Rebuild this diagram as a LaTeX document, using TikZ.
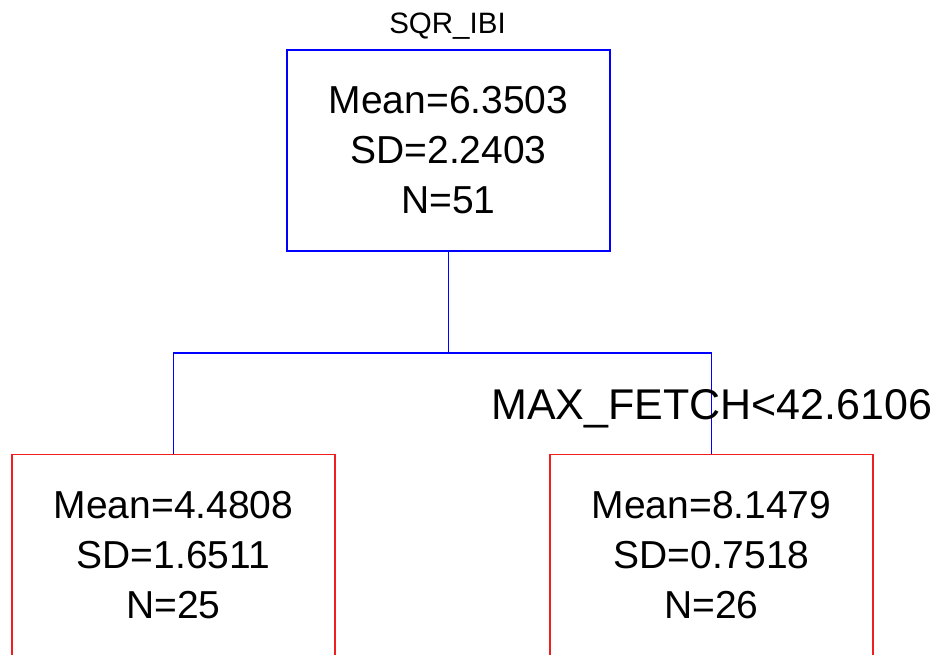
\documentclass[tikz,border=0pt]{standalone}
\usepackage{fontspec}
\setmainfont{Liberation Sans}
\definecolor{splitblue}{RGB}{0,0,255}
\definecolor{leafred}{RGB}{240,30,30}
\begin{document}
\begin{tikzpicture}[x=1pt,y=-1pt,
  treebox/.style={minimum width=323pt, minimum height=201pt, inner sep=0pt, line width=1.2pt,
    align=center, font=\fontsize{39}{50}\selectfont},
  rootbox/.style={treebox, draw=splitblue},
  leafbox/.style={treebox, draw=leafred},
  link/.style={draw=splitblue, line width=1.2pt}]
\useasboundingbox (0,0) rectangle (938,654);
\node[rootbox] (root) at (448.5,150.5) {Mean=6.3503\\SD=2.2403\\N=51};
\node[anchor=base, font=\fontsize{29.5}{30}\selectfont] (title) at (447.5,33) {SQR\_IBI};
\node[leafbox] (left) at (173.5,555) {Mean=4.4808\\SD=1.6511\\N=25};
\node[leafbox] (right) at (711.5,555) {Mean=8.1479\\SD=0.7518\\N=26};
\coordinate (split) at (448.5,353);
\draw[link] (root.south) -- (split);
\draw[link] (left.north) |- (split);
\draw[link] (split) -| (right.north);
\node[anchor=base west, inner sep=0pt, font=\fontsize{43}{45}\selectfont] (rule) at (491,419) {MAX\_FETCH<42.6106};
\end{tikzpicture}
\end{document}
